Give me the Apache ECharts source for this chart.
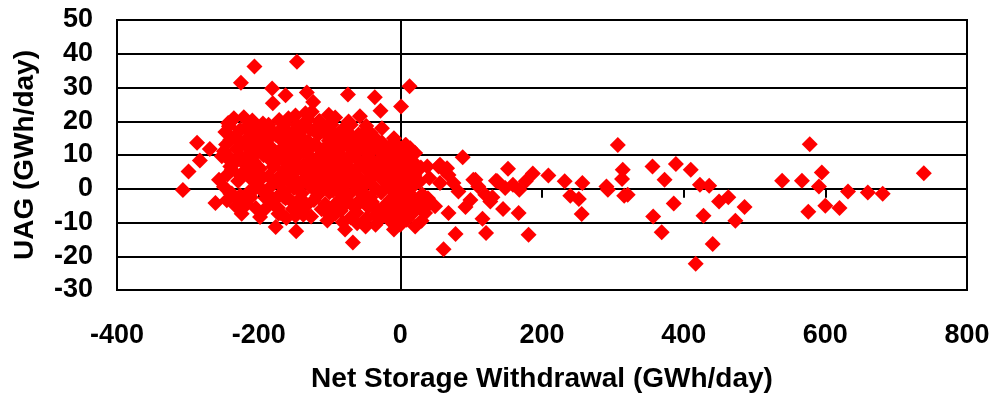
<!DOCTYPE html>
<html>
<head>
<meta charset="utf-8">
<script src="https://cdn.jsdelivr.net/npm/echarts@6/dist/echarts.min.js"></script>
<style>html,body{margin:0;padding:0;background:#fff}#c{width:995px;height:398px}</style>
</head>
<body>
<div id="c"></div>
<script>
// x-axis ticks and y-axis ticks
const xTicks = [-400, -200, 0, 200, 400, 600, 800];
const yTicks = [-30, -20, -10, 0, 10, 20, 30, 40, 50];
const xTitle = 'Net Storage Withdrawal (GWh/day)';
const yTitle = 'UAG (GWh/day)';

// Right-hand, sparse points
const sparseX = [209,232,257,240,252,256,291,293,307,314,313,316,321,356,373,389,410,423,436,386,357,369,428,450,463,486,473,441,417,539,567,578,595,591,632,660,681,739,576,600,620];
const sparseY = [3.9,2.2,1.7,-2.1,-3.0,-7.5,0.7,-0.3,13.0,5.6,2.9,-2.1,-1.8,6.6,2.7,7.3,5.6,1.2,0.9,-4.4,-8.2,-12.9,-8.0,-3.8,-2.5,-5.4,-9.5,-16.4,-22.2,2.4,2.4,13.2,4.8,0.7,-0.8,-1.1,-1.5,4.6,-6.8,-5.0,-5.7];

// Middle points (0 .. 200)
const midX = [88,152,187,135,148,159,168,177,167,145,181,121,78,61,116,130,120,106,99,92,68,54,61,68,75,82,56,42,49,35,21,16,38,21,19,12,28,110,127,137,103,66,56,14,8,7];
const midY = [9.3,5.9,4.5,2.4,0.2,1.2,-0.3,2.2,-7.2,-6.0,-13.6,-13.1,-13.4,-17.9,-8.9,-2.5,-1.8,2.7,-3.3,-5.4,-7.2,6.6,5.6,4.1,1.7,-0.8,1.7,-4.2,-5.2,-7.2,-11.2,-5.2,6.6,10.6,4.6,-2.3,-3.8,0.7,-3.8,2.2,2.7,6.1,7.1,12.0,13.0,13.0];

// Outer points of the main cluster (negative withdrawal)
const edgeX = [13,1,-74,-36,-28,-57,-26,-35,-42,-73,-101,-115,-134,-146,-132,-123,-206,-225,-181,-162,-180,-239,-242,-221,-209,-201,-216,-188,-169,-158,-146,-155,-287,-283,-269,-249,-242,-238,-224,-219,-207,-191,-184,-174,-162,-299,-307,-256,-238,-261,-228,-224,-207,-200,-198,-176,-169,-165,-188,-186,-155,-205,-172,-147,-172,-162,-137,-78,-67,-61,-49,-35,-9,0,9,-137,-103,-94,-59,-24,-252,-240,-226,-195,-243,-235,-207,-9,-5];
const edgeY = [30.4,24.4,27.9,27.1,23.1,21.5,17.9,13.8,16.5,19.9,21.9,19.9,22.4,37.6,28.5,25.7,36.2,31.4,29.7,27.7,25.3,19.9,18.5,21.2,20.2,17.5,14.8,14.5,17.5,20.9,19.0,14.5,13.6,8.4,11.8,11.1,8.6,5.6,9.2,7.1,8.1,11.6,8.6,10.1,7.6,5.1,-0.4,2.7,-1.4,-4.2,-3.3,-7.4,-0.3,2.2,-8.4,-11.3,-7.2,-2.3,-1.3,3.7,3.7,4.6,1.7,-12.6,-7.4,-2.8,-6.8,-12.1,-15.9,-10.2,-11.2,-10.7,-12.1,-10.7,-9.2,-7.7,-7.2,-5.2,-4.2,-6.2,9.6,6.6,9.6,16.5,19.5,20.9,19.6,15.0,13.0];

// Inner points of the dense cluster
const coreX = [-247,-246,-244,-249,-245,-233,-231,-234,-229,-232,-218,-216,-220,-214,-217,-205,-203,-206,-202,-204,-194,-191,-193,-195,-190,-192,-181,-183,-179,-182,-180,-171,-169,-172,-168,-170,-173,-158,-160,-157,-159,-156,-161,-148,-146,-149,-145,-147,-150,-144,-148,-136,-138,-134,-137,-135,-139,-133,-125,-127,-123,-126,-124,-128,-122,-126,-114,-116,-112,-115,-113,-117,-111,-103,-101,-105,-102,-104,-100,-106,-103,-92,-94,-90,-93,-91,-95,-89,-92,-81,-79,-83,-80,-82,-78,-84,-81,-70,-72,-68,-71,-69,-73,-67,-70,-59,-57,-61,-58,-60,-56,-62,-48,-50,-46,-49,-47,-51,-45,-48,-37,-39,-35,-38,-36,-40,-34,-26,-24,-28,-25,-27,-23,-29,-15,-17,-13,-16,-14,-18,-12,-4,-6,-2,-5,-3,-7,7,5,9,6,8,4,18,20,16,19,17,29,27,31,28,30,41,39];
const coreY = [16.8,13.1,4.2,0.6,-3.4,15.6,11.7,7.6,2.3,-5.2,18.0,12.4,5.1,-1.0,-4.6,14.3,10.6,6.1,1.2,-5.7,19.3,15.4,9.9,3.5,-2.8,-6.2,17.2,12.4,6.6,0.9,-4.4,20.4,14.7,11.0,4.2,-1.6,-5.6,16.6,12.1,8.2,2.5,-3.2,-8.7,21.7,17.8,13.3,9.7,5.4,0.2,-4.1,-8.0,19.4,15.0,11.2,7.0,3.0,-1.3,-5.0,22.8,17.5,12.9,8.6,4.5,1.0,-3.3,-8.2,20.1,16.0,10.3,6.2,1.9,-2.0,-6.1,18.4,14.2,9.0,5.6,2.6,-1.0,-4.5,-9.4,21.1,16.5,12.2,7.7,3.7,-0.5,-3.9,-7.5,17.7,13.4,9.6,5.0,0.7,-2.7,-6.5,-9.9,19.0,15.2,10.5,6.1,2.0,-1.8,-5.0,-8.5,16.1,12.5,8.7,3.2,-0.3,-3.1,-7.1,18.6,14.4,9.5,5.8,2.4,-1.4,-5.5,-8.8,15.3,11.5,7.3,3.9,0.3,-3.9,-7.7,13.7,10.2,6.4,2.6,-1.1,-5.2,-9.0,12.5,8.8,4.5,0.5,-3.2,-6.7,-10.0,10.8,7.5,3.4,-0.7,-4.1,-7.9,9.7,5.8,1.7,-2.5,-5.6,-8.5,8.0,4.1,0.4,-3.4,-7.3,6.3,2.1,-1.7,-5.4,-9.5,3.2,-2.8];

// Extra in-between points of the dense cluster
const fillX = [-240,-240,-240,-226,-226,-226,-226,-211,-211,-211,-211,-211,-198,-198,-198,-198,-186,-186,-186,-186,-176,-176,-176,-176,-164,-164,-164,-164,-164,-152,-152,-152,-152,-152,-141,-141,-141,-141,-141,-130,-130,-130,-130,-119,-119,-119,-119,-119,-108,-108,-108,-108,-108,-97,-97,-97,-97,-97,-86,-86,-86,-86,-86,-75,-75,-75,-75,-75,-64,-64,-64,-64,-64,-53,-53,-53,-53,-42,-42,-42,-42,-31,-31,-31,-31,-20,-20,-20,-20,-9,-9,-9,-9,-9,2,2,2,2,12,12,12,23,23];
const fillY = [9.0,14.5,-1.5,13.5,4.0,-2.0,17.5,16.0,8.5,3.0,-2.5,11.0,12.5,6.0,0.0,17.0,14.8,9.3,19.0,-2.3,16.0,8.0,2.2,-3.0,18.8,10.0,5.5,-0.8,14.0,15.2,11.0,7.0,3.5,-6.0,17.0,12.5,6.0,1.5,-2.8,14.0,10.0,5.8,20.5,13.0,8.0,3.2,18.0,-0.8,16.8,11.8,7.0,3.8,0.5,14.0,10.6,5.2,1.5,19.0,15.6,11.5,7.0,2.5,-1.0,13.0,8.4,3.6,-4.0,17.0,14.4,10.2,5.5,1.0,-5.5,12.0,7.4,0.8,16.3,13.0,9.0,5.0,-2.5,12.0,8.4,4.5,-6.5,10.8,6.2,2.0,-8.0,9.0,5.0,1.5,-2.2,-5.8,8.0,3.5,-0.5,-6.8,6.5,-1.2,3.0,6.0,-5.8];

const allX = [].concat(sparseX, midX, edgeX, coreX, fillX);
const allY = [].concat(sparseY, midY, edgeY, coreY, fillY);
const points = allX.map((x, i) => [x, allY[i]]);

const chart = echarts.init(document.getElementById('c'), null, {renderer: 'canvas'});
const FONT = 'Liberation Sans, Arial, sans-serif';
chart.setOption({
  animation: false,
  backgroundColor: '#fff',
  grid: {left: 117, right: 28, top: 20, bottom: 108, show: true, borderColor: '#000', borderWidth: 2, backgroundColor: 'transparent'},
  xAxis: [{
    type: 'value', min: xTicks[0], max: xTicks[xTicks.length - 1], interval: 200, position: 'bottom',
    axisLine: {show: false, onZero: false},
    axisTick: {show: false},
    splitLine: {show: false},
    axisLabel: {margin: 32, color: '#000', fontFamily: FONT, fontWeight: 'bold', fontSize: 27},
    name: xTitle, nameLocation: 'middle', nameGap: 75,
    nameTextStyle: {color: '#000', fontFamily: FONT, fontWeight: 'bold', fontSize: 28}
  }, {
    type: 'value', min: xTicks[0], max: xTicks[xTicks.length - 1], interval: 200, position: 'top',
    axisLine: {show: true, onZero: true, lineStyle: {color: '#000', width: 2}},
    axisTick: {show: true, inside: true, length: 9, lineStyle: {color: '#000', width: 2}},
    axisLabel: {show: false}, splitLine: {show: false}
  }],
  yAxis: [{
    type: 'value', min: yTicks[0], max: yTicks[yTicks.length - 1], interval: 10, position: 'left',
    axisLine: {show: false, onZero: false},
    axisTick: {show: false},
    splitLine: {show: true, lineStyle: {color: '#000', width: 2}},
    axisLabel: {margin: 24, color: '#000', fontFamily: FONT, fontWeight: 'bold', fontSize: 27},
    name: yTitle, nameLocation: 'middle', nameGap: 78,
    nameTextStyle: {color: '#000', fontFamily: FONT, fontWeight: 'bold', fontSize: 28}
  }, {
    type: 'value', min: yTicks[0], max: yTicks[yTicks.length - 1], interval: 10, position: 'right',
    axisLine: {show: true, onZero: true, lineStyle: {color: '#000', width: 2}},
    axisTick: {show: false}, axisLabel: {show: false}, splitLine: {show: false}
  }],
  series: [{
    type: 'scatter', xAxisIndex: 0, yAxisIndex: 0,
    symbol: 'diamond', symbolSize: 16,
    itemStyle: {color: '#ff0000', opacity: 1},
    data: points
  }]
});
</script>
</body>
</html>
